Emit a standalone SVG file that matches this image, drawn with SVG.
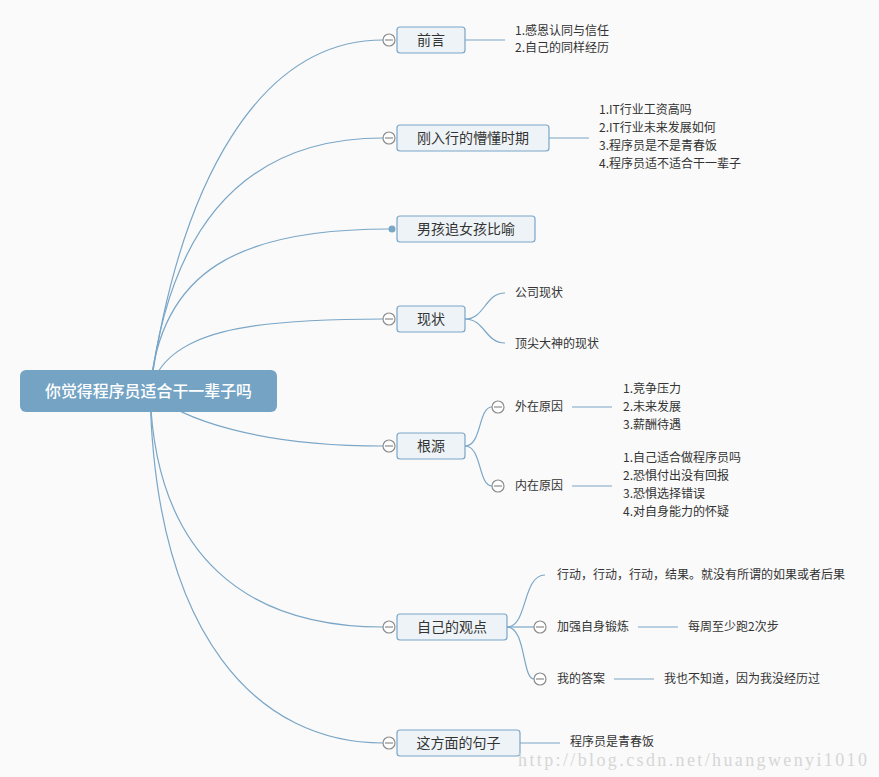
<svg xmlns="http://www.w3.org/2000/svg" width="879" height="777" viewBox="0 0 879 777">
<style>
.bg{fill:#fafafa}
.ln{fill:none;stroke:#7aa6c7;stroke-width:1.2}
.box{fill:#eef3f7;stroke:#7aa6c7;stroke-width:1.2}
.root{fill:#74a3c4}
.col{fill:#ffffff;stroke:#8c8c8c;stroke-width:1.2}
.cl{stroke:#8c8c8c;stroke-width:1.2}
text{font-family:"Noto Sans CJK SC","Microsoft YaHei",sans-serif;fill:#333}
.t14{font-size:14px;text-anchor:middle}
.t12{font-size:12px}
.rt{font-size:16px;fill:#fff;text-anchor:middle;font-weight:500}
.wm{font-family:"Liberation Serif",serif;font-size:18px;fill:#d6d6d6}
</style>
<defs>
<g id="minus"><circle class="col" cx="0" cy="0" r="6"/><line class="cl" x1="-4" y1="0" x2="4" y2="0"/></g>
</defs>
<rect class="bg" x="0" y="0" width="879" height="777"/>
<g id="connectors">
<path class="ln" d="M150,391 C180,180 260,40 383,40"/>
<path class="ln" d="M150,391 C170,220 250,138 383,138"/>
<path class="ln" d="M150,391 C160,270 240,229 389,229"/>
<path class="ln" d="M150,391 C165,330 250,319 383,319"/>
<path class="ln" d="M150,391 C180,420 260,446 383,446"/>
<path class="ln" d="M150,391 C155,560 250,627 383,627"/>
<path class="ln" d="M150,391 C155,640 260,743 383,743"/>
<path class="ln" d="M465,40 H505"/>
<path class="ln" d="M549,138 H589"/>
<path class="ln" d="M465,319 C485,319 485,293 505,293"/>
<path class="ln" d="M465,319 C485,319 485,343 505,343"/>
<path class="ln" d="M465,446 C482,446 478,407 492,407"/>
<path class="ln" d="M465,446 C482,446 478,486 492,486"/>
<path class="ln" d="M572,407 H612"/>
<path class="ln" d="M572,486 H612"/>
<path class="ln" d="M507,627 C528,627 522,575 545,575"/>
<path class="ln" d="M507,627 H534"/>
<path class="ln" d="M507,627 C526,627 522,679 534,679"/>
<path class="ln" d="M638,627 H678"/>
<path class="ln" d="M614,679 H654"/>
<path class="ln" d="M520,743 H560"/>
</g>
<g id="root">
<rect class="root" x="20" y="370" width="257" height="42" rx="6"/>
<text class="rt" x="148.5" y="397" textLength="207" lengthAdjust="spacingAndGlyphs">你觉得程序员适合干一辈子吗</text>
</g>
<g id="n-qianyan">
<use href="#minus" x="389" y="40"/>
<rect class="box" x="397" y="27" width="68" height="26" rx="3"/>
<text class="t14" x="431" y="45">前言</text>
<text class="t12" x="515" y="35">1.感恩认同与信任</text>
<text class="t12" x="515" y="52">2.自己的同样经历</text>
</g>
<g id="n-gangruhang">
<use href="#minus" x="389" y="138"/>
<rect class="box" x="397" y="125" width="152" height="26" rx="3"/>
<text class="t14" x="473" y="143">刚入行的懵懂时期</text>
<text class="t12" x="599" y="114">1.IT行业工资高吗</text>
<text class="t12" x="599" y="132">2.IT行业未来发展如何</text>
<text class="t12" x="599" y="150">3.程序员是不是青春饭</text>
<text class="t12" x="599" y="168">4.程序员适不适合干一辈子</text>
</g>
<g id="n-nanhai">
<circle cx="392" cy="229" r="3.5" fill="#7aa6c7"/>
<rect class="box" x="397" y="216" width="138" height="26" rx="3"/>
<text class="t14" x="466" y="234">男孩追女孩比喻</text>
</g>
<g id="n-xianzhuang">
<use href="#minus" x="389" y="319"/>
<rect class="box" x="397" y="306" width="68" height="26" rx="3"/>
<text class="t14" x="431" y="324">现状</text>
<text class="t12" x="515" y="297">公司现状</text>
<text class="t12" x="515" y="348">顶尖大神的现状</text>
</g>
<g id="n-genyuan">
<use href="#minus" x="389" y="446"/>
<rect class="box" x="397" y="433" width="68" height="26" rx="3"/>
<text class="t14" x="431" y="451">根源</text>
<use href="#minus" x="498" y="407"/>
<text class="t12" x="515" y="411">外在原因</text>
<text class="t12" x="623" y="393">1.竞争压力</text>
<text class="t12" x="623" y="411">2.未来发展</text>
<text class="t12" x="623" y="429">3.薪酬待遇</text>
<use href="#minus" x="498" y="486"/>
<text class="t12" x="515" y="490">内在原因</text>
<text class="t12" x="623" y="462">1.自己适合做程序员吗</text>
<text class="t12" x="623" y="480">2.恐惧付出没有回报</text>
<text class="t12" x="623" y="498">3.恐惧选择错误</text>
<text class="t12" x="623" y="516">4.对自身能力的怀疑</text>
</g>
<g id="n-guandian">
<use href="#minus" x="389" y="627"/>
<rect class="box" x="397" y="614" width="110" height="26" rx="3"/>
<text class="t14" x="452" y="632">自己的观点</text>
<text class="t12" x="557" y="579">行动，行动，行动，结果。就没有所谓的如果或者后果</text>
<use href="#minus" x="540" y="627"/>
<text class="t12" x="557" y="631">加强自身锻炼</text>
<text class="t12" x="688" y="631">每周至少跑2次步</text>
<use href="#minus" x="540" y="679"/>
<text class="t12" x="557" y="683">我的答案</text>
<text class="t12" x="664" y="683">我也不知道，因为我没经历过</text>
</g>
<g id="n-juzi">
<use href="#minus" x="389" y="743"/>
<rect class="box" x="397" y="730" width="123" height="26" rx="3"/>
<text class="t14" x="458.5" y="748">这方面的句子</text>
<text class="t12" x="570" y="746">程序员是青春饭</text>
</g>
<text class="wm" x="518" y="766" textLength="349" lengthAdjust="spacing">http://blog.csdn.net/huangwenyi1010</text>
</svg>
